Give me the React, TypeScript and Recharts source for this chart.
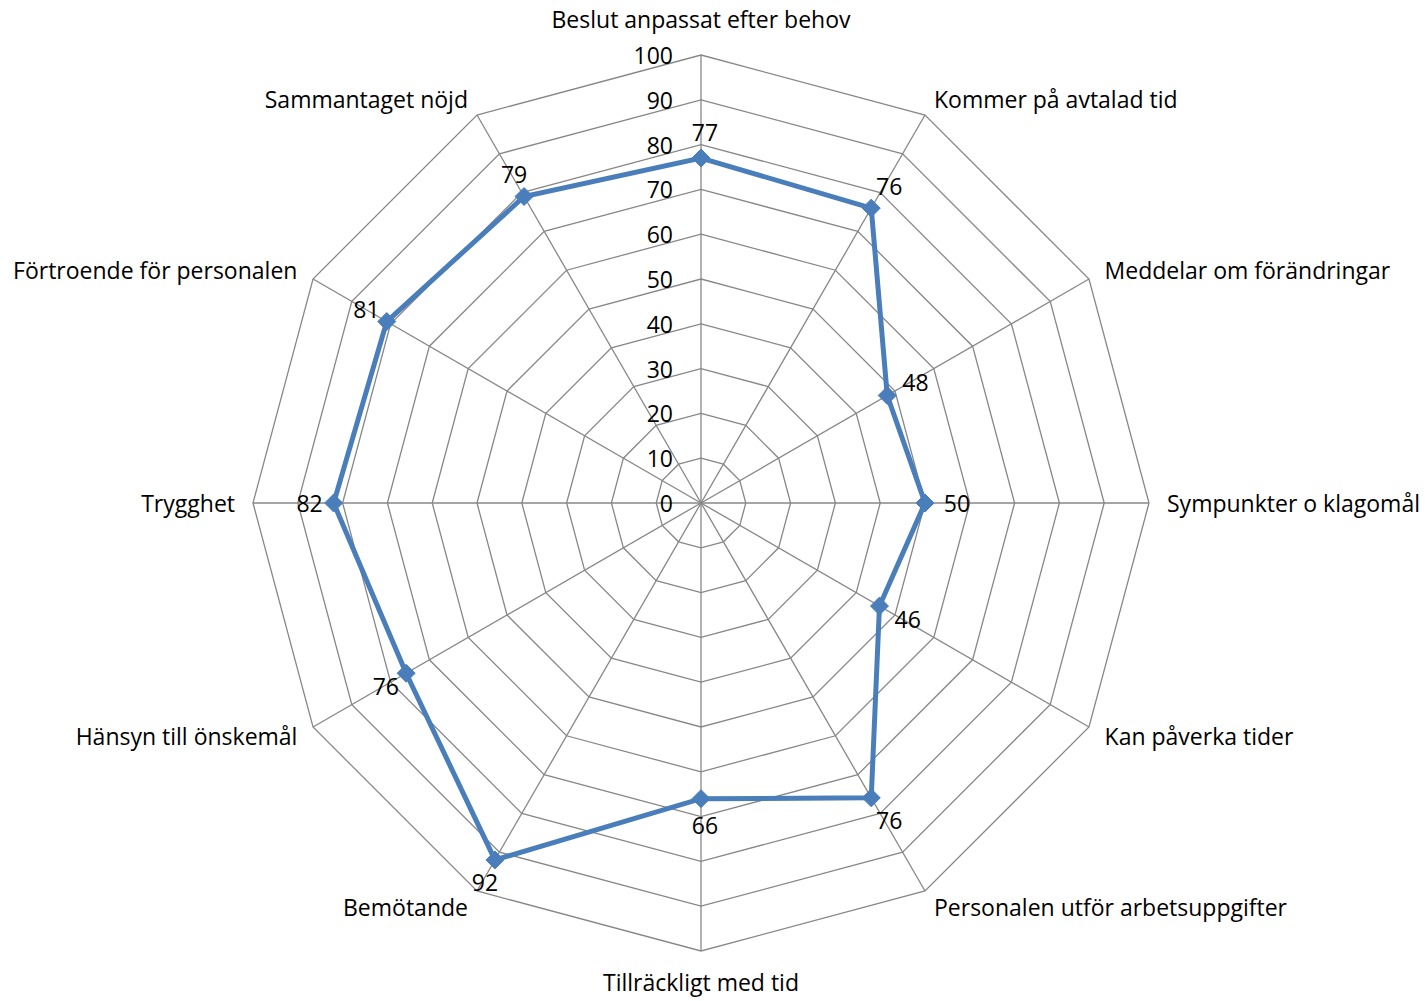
import { RadarChart, Radar, PolarGrid, PolarAngleAxis, PolarRadiusAxis } from "recharts"

const categories = [
  "Beslut anpassat efter behov",
  "Kommer på avtalad tid",
  "Meddelar om förändringar",
  "Sympunkter o klagomål",
  "Kan påverka tider",
  "Personalen utför arbetsuppgifter",
  "Tillräckligt med tid",
  "Bemötande",
  "Hänsyn till önskemål",
  "Trygghet",
  "Förtroende för personalen",
  "Sammantaget nöjd",
]
const scores = [77, 76, 48, 50, 46, 76, 66, 92, 76, 82, 81, 79]
const radiusTicks = [0, 10, 20, 30, 40, 50, 60, 70, 80, 90, 100]

const data = categories.map((name, i) => ({ name, score: scores[i] }))

const CX = 701
const CY = 503
const R = 448
const font = "'Open Sans', sans-serif"
const fontSize = 23
const blue = "#4A7EBB"
const gridStroke = "#878787"

function AngleTick(props: any) {
  const { payload } = props
  const deg = payload.coordinate
  const rad = (deg * Math.PI) / 180
  const cos = Math.cos(rad) // horizontal component
  const sin = Math.sin(rad) // vertical (up) component
  const vx = CX + R * cos
  const vy = CY - R * sin
  let anchor: "start" | "middle" | "end" = "middle"
  if (cos > 0.01) anchor = "start"
  else if (cos < -0.01) anchor = "end"
  const dx = 18 * cos
  let dy = -18 * sin
  // top / bottom labels sit further out; bottom one kept inside the page
  if (anchor === "middle") dy += sin > 0 ? -18 : 13
  return (
    <text
      x={vx + dx}
      y={vy + dy}
      textAnchor={anchor}
      dominantBaseline="central"
      fontFamily={font}
      fontSize={fontSize}
      fill="#000"
    >
      {payload.value}
    </text>
  )
}

function RadiusTick(props: any) {
  const { x, y, payload } = props
  return (
    <text x={x - 28} y={y} textAnchor="end" dominantBaseline="central" fontFamily={font} fontSize={fontSize} fill="#000">
      {payload.value}
    </text>
  )
}

function DiamondDot(props: any) {
  const { cx, cy, index } = props
  const s = 9
  const ang = Math.PI / 2 - (index * 2 * Math.PI) / categories.length
  const lx = cx + 28 * Math.cos(ang) + 4
  const ly = cy - 26 * Math.sin(ang)
  return (
    <g>
      <path d={`M${cx},${cy - s} L${cx + s},${cy} L${cx},${cy + s} L${cx - s},${cy} Z`} fill={blue} stroke={blue} />
      <text x={lx} y={ly} textAnchor="middle" dominantBaseline="central" fontFamily={font} fontSize={fontSize} fill="#000">
        {scores[index]}
      </text>
    </g>
  )
}

export default function App() {
  return (
    <div style={{ margin: "-8px 0 0 -8px", width: 1427, height: 1001, background: "#fff" }}>
      <RadarChart
        width={1427}
        height={1001}
        data={data}
        cx={CX}
        cy={CY}
        outerRadius={R}
        margin={{ top: 0, right: 0, bottom: 0, left: 0 }}
      >
        <PolarGrid gridType="polygon" stroke={gridStroke} strokeWidth={1.3} strokeOpacity={1} />
        <PolarAngleAxis dataKey="name" tick={<AngleTick />} tickLine={false} axisLine={false} />
        <PolarRadiusAxis
          angle={90}
          domain={[0, 100]}
          ticks={radiusTicks}
          tickCount={11}
          tick={<RadiusTick />}
          axisLine={false}
          tickLine={false}
        />
        <Radar
          dataKey="score"
          stroke={blue}
          strokeWidth={5}
          fill="none"
          fillOpacity={0}
          dot={<DiamondDot />}
          isAnimationActive={false}
        />
      </RadarChart>
    </div>
  )
}
